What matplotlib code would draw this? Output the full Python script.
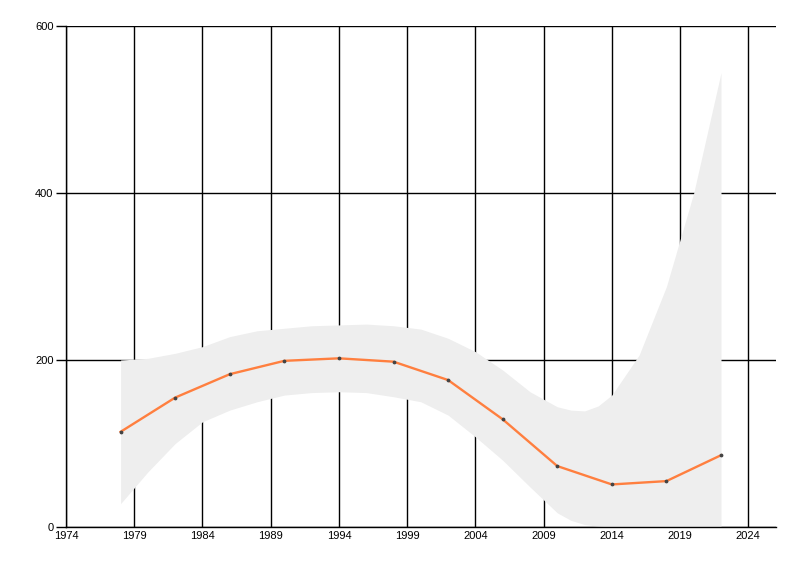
import numpy as np
import matplotlib
matplotlib.use("Agg")
import matplotlib.pyplot as plt

# central estimate (orange line)
years = [1978, 1982, 1986, 1990, 1994, 1998, 2002, 2006, 2010, 2014, 2018, 2022]
values = [114, 155, 183, 199, 202, 198, 176, 129, 73, 51, 55, 86]

# confidence band
band_years = [1978, 1980, 1982, 1984, 1986, 1988, 1990, 1992, 1994, 1996, 1998,
              2000, 2002, 2004, 2006, 2008, 2010, 2011, 2012, 2013, 2014, 2016, 2018, 2020, 2022]
band_upper = [200, 202, 208, 216, 228, 235, 238, 241, 242, 243, 241,
              237, 226, 210, 188, 162, 144, 140, 139, 145, 158, 206, 288, 400, 544]
band_lower = [28, 66, 100, 126, 140, 150, 158, 161, 162, 161, 156,
              150, 134, 108, 80, 48, 17, 8, 3, 1, 0, 0, 0, 0, 0]

x_ticks = [1974, 1979, 1984, 1989, 1994, 1999, 2004, 2009, 2014, 2019, 2024]
y_ticks = [0, 200, 400, 600]

plt.rcParams['font.family'] = ['Liberation Sans', 'DejaVu Sans']

fig = plt.figure(figsize=(8, 5.76), dpi=100)
ax = fig.add_axes([0.0825, 0.085, 0.887, 0.87])

ax.fill_between(band_years, band_lower, band_upper, color="#eeeeee", lw=0, zorder=2)
ax.plot(years, values, color="#ff7f3f", lw=1.7, zorder=3)
ax.scatter(years, values, s=3, color="#444444", zorder=4)

ax.set_xlim(1974, 2026)
ax.set_ylim(0, 600)
ax.set_xticks(x_ticks)
ax.set_yticks(y_ticks)
ax.grid(True, color="black", lw=1, zorder=1)
ax.set_axisbelow(True)

for s in ["top", "right"]:
    ax.spines[s].set_visible(False)
for s in ["left", "bottom"]:
    ax.spines[s].set_color("black")
    ax.spines[s].set_linewidth(1)

ax.tick_params(axis="y", length=7, width=1, pad=2, labelsize=8)
ax.tick_params(axis="x", length=0, pad=3, labelsize=8)

fig.savefig("out.png", dpi=100, facecolor="white")
